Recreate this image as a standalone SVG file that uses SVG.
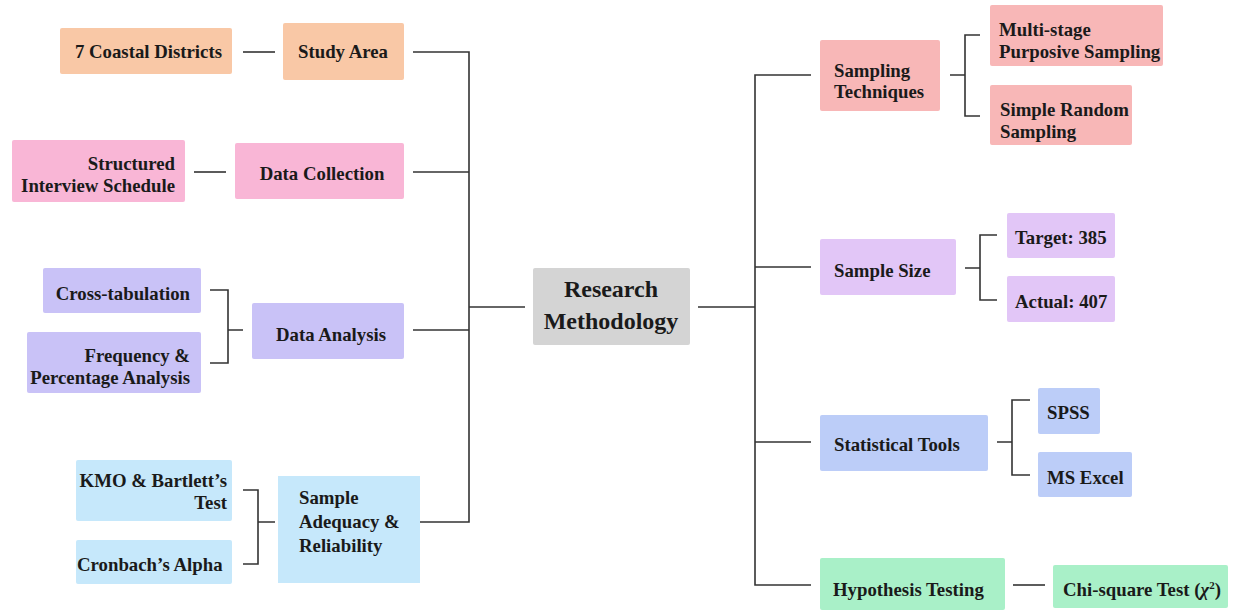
<svg xmlns="http://www.w3.org/2000/svg" width="1233" height="611" viewBox="0 0 1233 611">
<style>
text{font-family:"Liberation Serif","Times New Roman",serif;font-weight:bold;font-size:18.8px;fill:#1a1a1a}
.c{text-anchor:middle}.e{text-anchor:end}
.big{font-size:24px}
.ln{fill:none;stroke:#333;stroke-width:1.6}
.peach{fill:#F9C8A6}.pink{fill:#F9B6D6}.lav{fill:#C9C2F7}.sky{fill:#C6E8FB}.gray{fill:#D4D4D4}
.salmon{fill:#F8B7B7}.purp{fill:#E2C6F7}.blue{fill:#BCCDF8}.green{fill:#A9F0C8}
</style>
<rect width="1233" height="611" fill="#fff"/>
<g id="connectors" class="ln">
<path d="M243 52H275"/>
<path d="M413 52H469V522H420"/>
<path d="M194 172H226"/>
<path d="M413 172H469"/>
<path d="M210 290H228V363H210M228 330H243"/>
<path d="M413 330H469"/>
<path d="M243 490H258V564H243M258 522H275"/>
<path d="M469 307H525"/>
<path d="M698 307H755"/>
<path d="M811 75H755V585H811"/>
<path d="M755 267H811"/>
<path d="M755 442H811"/>
<path d="M950 75H965M980 35H965V116H980"/>
<path d="M965 268H980M997 235H980V300H997"/>
<path d="M997 442H1012M1030 400H1012V475H1030"/>
<path d="M1013 585H1045"/>
</g>
<g id="n-coastal"><rect class="peach" x="60" y="28" width="172" height="46" rx="2"/><text class="e" x="222" y="58">7 Coastal Districts</text></g>
<g id="n-study"><rect class="peach" x="283" y="23" width="121" height="57" rx="2"/><text class="c" x="343" y="58">Study Area</text></g>
<g id="n-sis"><rect class="pink" x="12" y="140" width="173" height="62" rx="2"/><text class="e" x="175" y="170">Structured</text><text class="e" x="175" y="192">Interview Schedule</text></g>
<g id="n-datacoll"><rect class="pink" x="235" y="143" width="169" height="56" rx="2"/><text class="c" x="322" y="180">Data Collection</text></g>
<g id="n-cross"><rect class="lav" x="43" y="268" width="158" height="45" rx="2"/><text class="e" x="190" y="300">Cross-tabulation</text></g>
<g id="n-freq"><rect class="lav" x="27" y="332" width="174" height="61" rx="2"/><text class="e" x="190" y="362">Frequency &amp;</text><text class="e" x="190" y="384">Percentage Analysis</text></g>
<g id="n-dataan"><rect class="lav" x="252" y="303" width="152" height="56" rx="2"/><text class="c" x="331" y="341">Data Analysis</text></g>
<g id="n-kmo"><rect class="sky" x="76" y="460" width="156" height="61" rx="2"/><text class="e" x="227" y="487">KMO &amp; Bartlett’s</text><text class="e" x="227" y="509">Test</text></g>
<g id="n-cron"><rect class="sky" x="76" y="540" width="156" height="44" rx="2"/><text x="77" y="571">Cronbach’s Alpha</text></g>
<g id="n-adeq"><rect class="sky" x="278" y="476" width="142" height="107"/><text x="299" y="504">Sample</text><text x="299" y="528">Adequacy &amp;</text><text x="299" y="552">Reliability</text></g>
<g id="n-root"><rect class="gray" x="533" y="268" width="157" height="77" rx="2"/><text class="c big" x="611" y="297">Research</text><text class="c big" x="611" y="329">Methodology</text></g>
<g id="n-samptech"><rect class="salmon" x="820" y="40" width="120" height="71" rx="2"/><text x="834" y="77">Sampling</text><text x="834" y="98">Techniques</text></g>
<g id="n-multi"><rect class="salmon" x="990" y="5" width="173" height="61" rx="2"/><text x="999" y="36">Multi-stage</text><text x="999" y="58">Purposive Sampling</text></g>
<g id="n-simple"><rect class="salmon" x="990" y="85" width="142" height="60" rx="2"/><text x="1000" y="116">Simple Random</text><text x="1000" y="138">Sampling</text></g>
<g id="n-size"><rect class="purp" x="820" y="239" width="136" height="56" rx="2"/><text x="834" y="277">Sample Size</text></g>
<g id="n-target"><rect class="purp" x="1007" y="213" width="108" height="45" rx="2"/><text x="1015" y="244">Target: 385</text></g>
<g id="n-actual"><rect class="purp" x="1007" y="276" width="108" height="46" rx="2"/><text x="1015" y="308">Actual: 407</text></g>
<g id="n-stat"><rect class="blue" x="820" y="415" width="168" height="56" rx="2"/><text x="834" y="451">Statistical Tools</text></g>
<g id="n-spss"><rect class="blue" x="1038" y="388" width="62" height="46" rx="2"/><text x="1047" y="419">SPSS</text></g>
<g id="n-excel"><rect class="blue" x="1038" y="452" width="94" height="45" rx="2"/><text x="1047" y="484">MS Excel</text></g>
<g id="n-hypo"><rect class="green" x="820" y="558" width="185" height="52" rx="2"/><text x="833" y="596">Hypothesis Testing</text></g>
<g id="n-chi"><rect class="green" x="1053" y="565" width="175" height="43" rx="2"/><text x="1063" y="596">Chi-square Test (<tspan font-style="italic">χ</tspan><tspan font-size="11" dy="-7">2</tspan><tspan dy="7">)</tspan></text></g>
</svg>
